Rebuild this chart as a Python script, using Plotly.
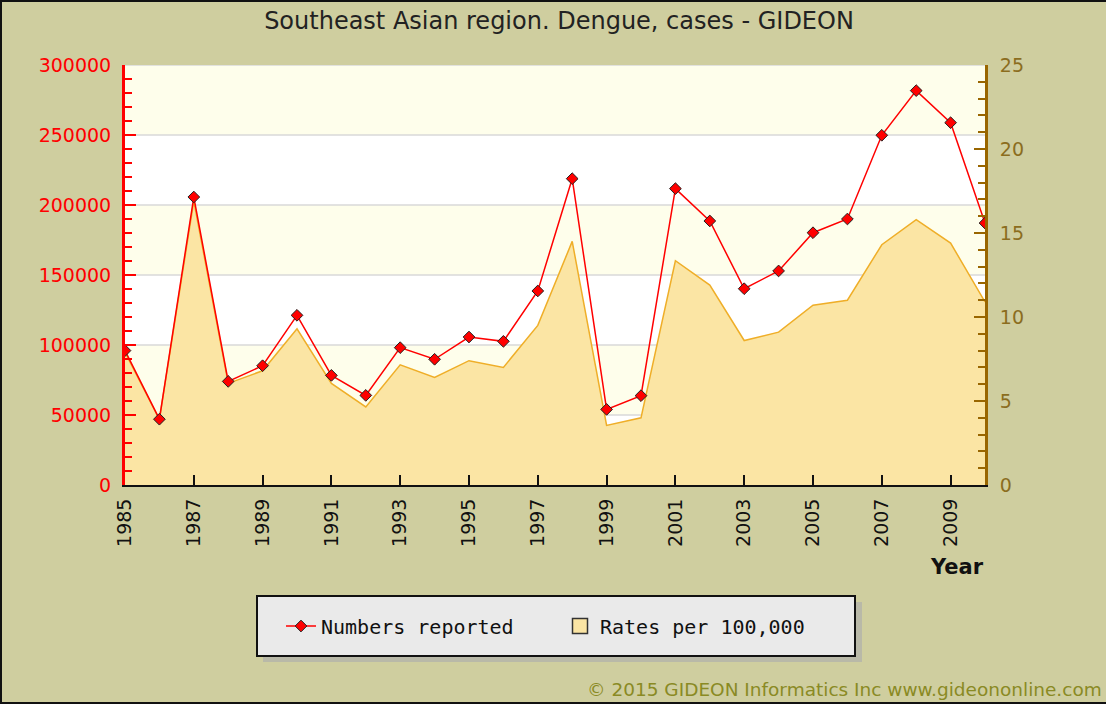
import plotly.graph_objects as go

# ─── Datos ───────────────────────────────────────────────────
years = list(range(1985, 2011))
numbers_reported = [
    96000, 47000, 205700, 74000, 85200, 121200, 78300, 64000, 98100, 89800,
    105700, 102600, 138600, 218800, 54000, 63800, 211700, 188600, 140200, 152900,
    180200, 190000, 249800, 281700, 258800, 187100,
]
rates_per_100k = [
    7.9, 3.9, 16.9, 6.05, 6.8, 9.3, 6.05, 4.65, 7.15, 6.4,
    7.4, 7.0, 9.5, 14.5, 3.55, 4.0, 13.35, 11.9, 8.6, 9.1,
    10.7, 11.0, 14.3, 15.8, 14.4, 10.9,
]
x_ticks = list(range(1985, 2011, 2))
left_ticks = [0, 50000, 100000, 150000, 200000, 250000, 300000]
right_ticks = [0, 5, 10, 15, 20, 25]

W, H = 1106, 704
L, R, T, B = 125, 985, 65, 485   # área del gráfico en píxeles


def px(x):
    return (x - L) / (R - L)


def py(y):
    return (B - y) / (B - T)


BG = '#CFCE9F'
RED = '#FF0000'
BROWN = '#996600'
AREA_FILL = '#FBE5A4'
AREA_LINE = '#EFAE28'

fig = go.Figure()

# tasas: área en el eje primario (derecho), debajo
fig.add_trace(go.Scatter(
    x=years, y=rates_per_100k, name='Rates per 100,000',
    mode='lines', fill='tozeroy', fillcolor=AREA_FILL,
    line=dict(color=AREA_LINE, width=1.5),
    yaxis='y', showlegend=False, hoverinfo='skip'
))

# números: línea roja en el eje superpuesto (izquierdo), encima
fig.add_trace(go.Scatter(
    x=years, y=numbers_reported, name='Numbers reported',
    mode='lines+markers', line=dict(color=RED, width=1.5),
    marker=dict(symbol='diamond', size=9, color=RED, line=dict(color='#222', width=1)),
    yaxis='y2', legendrank=1
))

# entrada de leyenda (cuadro) para las tasas
fig.add_trace(go.Scatter(
    x=[None], y=[None], name='Rates per 100,000', mode='markers',
    marker=dict(symbol='square', size=15, color=AREA_FILL, line=dict(color='#333', width=1.5)),
    yaxis='y', legendrank=2
))

# bandas de fondo + líneas de rejilla
shapes = []
for lo in [50000, 150000, 250000]:
    shapes.append(dict(type='rect', xref='paper', yref='y2', x0=0, x1=1, y0=lo, y1=lo + 50000,
                       fillcolor='#FEFEEB', line_width=0, layer='below'))
for v in left_ticks[1:]:
    shapes.append(dict(type='line', xref='paper', yref='y2', x0=0, x1=1, y0=v, y1=v,
                       line=dict(color='#D9D9D9', width=1.5), layer='below'))

# caja de la leyenda con sombra
shapes.append(dict(type='rect', xref='paper', yref='paper', x0=px(263), x1=px(862), y0=py(602), y1=py(662),
                   fillcolor='#B9B9A8', line_width=0, layer='below'))
shapes.append(dict(type='rect', xref='paper', yref='paper', x0=px(257), x1=px(855), y0=py(596), y1=py(656),
                   fillcolor='#EAEAEA', line=dict(color='#111', width=2), layer='below'))

# marco exterior
for x0, y0, x1, y1 in [(0, 1, W, 1), (1, 0, 1, H), (0, H - 1, W, H - 1)]:
    shapes.append(dict(type='line', xref='paper', yref='paper', x0=px(x0), x1=px(x1), y0=py(y0), y1=py(y1),
                       line=dict(color='#111', width=2)))

fig.update_layout(
    width=W, height=H,
    paper_bgcolor=BG, plot_bgcolor='#FFFFFF',
    margin=dict(l=L, r=W - R, t=T, b=H - B, autoexpand=False),
    font=dict(family='DejaVu Sans', color='#111'),
    title=dict(text='Southeast Asian region. Dengue, cases - GIDEON', x=559 / W, xref='container',
               xanchor='center', y=1 - 21 / H, yref='container', yanchor='middle',
               font=dict(size=24, color='#222')),
    xaxis=dict(
        range=[1985, 2010], tickmode='array', tickvals=x_ticks, ticktext=[str(t) for t in x_ticks],
        tickangle=-90, ticks='inside', ticklen=10, tickwidth=2, tickcolor='#111',
        showline=True, linecolor='#111', linewidth=2, showgrid=False, zeroline=False,
        tickfont=dict(size=19, color='#111'), ticklabelstandoff=4
    ),
    yaxis=dict(
        range=[0, 25], side='right', tickmode='array', tickvals=right_ticks,
        ticks='inside', ticklen=11, tickwidth=2, tickcolor=BROWN,
        minor=dict(dtick=1, ticks='inside', ticklen=7, tickwidth=2, tickcolor=BROWN),
        showline=True, linecolor=BROWN, linewidth=3, showgrid=False, zeroline=False,
        tickfont=dict(size=19, color='#8B6D1E'), ticklabelstandoff=8
    ),
    yaxis2=dict(
        range=[0, 300000], overlaying='y', side='left', tickmode='array', tickvals=left_ticks,
        ticktext=[str(v) for v in left_ticks],
        ticks='inside', ticklen=11, tickwidth=2, tickcolor=RED,
        minor=dict(dtick=10000, ticks='inside', ticklen=7, tickwidth=2, tickcolor=RED),
        showline=True, linecolor=RED, linewidth=3, showgrid=False, zeroline=False,
        tickfont=dict(size=19, color=RED), ticklabelstandoff=7
    ),
    legend=dict(
        orientation='h', x=px(281), xanchor='left', y=py(626), yanchor='middle',
        bgcolor='rgba(0,0,0,0)', borderwidth=0, entrywidth=234,
        font=dict(family='DejaVu Sans Mono', size=20, color='#111')
    ),
    shapes=shapes,
    annotations=[
        dict(text='<b>Year</b>', x=px(986), y=py(567), xref='paper', yref='paper',
             xanchor='right', yanchor='middle', showarrow=False,
             font=dict(size=21, color='#111')),
        dict(text='© 2015 GIDEON Informatics Inc www.gideononline.com', x=px(1104), y=py(689),
             xref='paper', yref='paper', xanchor='right', yanchor='middle', showarrow=False,
             font=dict(size=18.5, color='#8A8A24')),
    ],
    showlegend=True,
)

fig.write_html(
    "out.html",
    config={'displayModeBar': False},
    post_script="document.body.style.margin='0px';document.body.style.overflow='hidden';"
)
